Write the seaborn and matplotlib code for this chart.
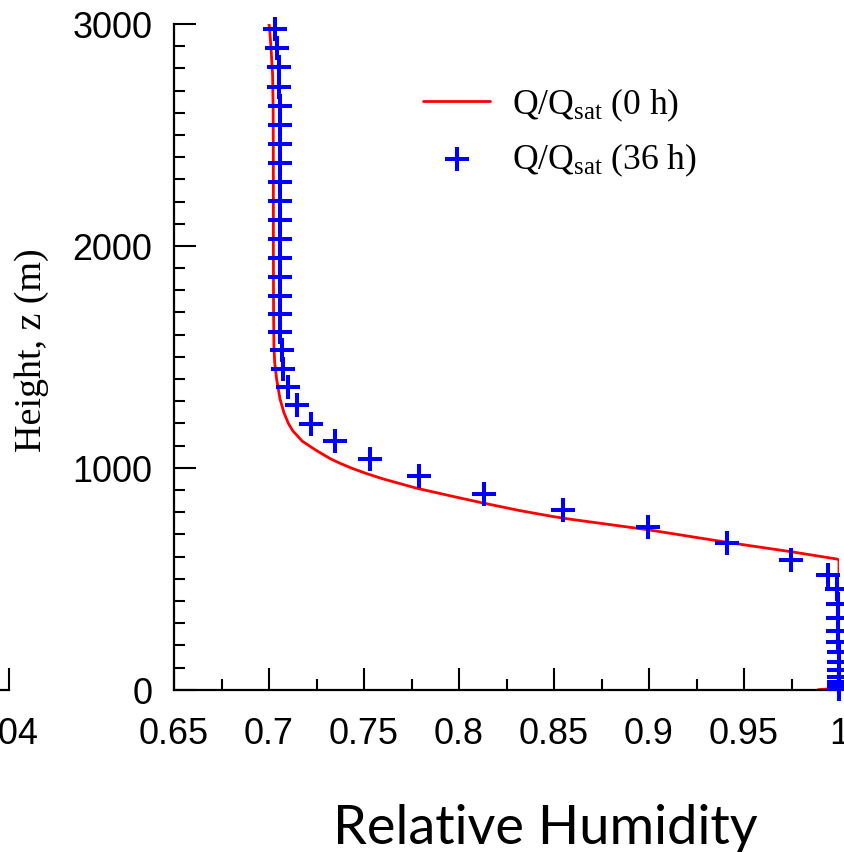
import matplotlib
matplotlib.use("Agg")
import matplotlib.pyplot as plt
import seaborn as sns
import pandas as pd
from matplotlib.ticker import FixedLocator, MultipleLocator, FixedFormatter
from matplotlib.transforms import ScaledTranslation

# Relative humidity profile at 0 h (solid line)
rh_0h = [0.7000, 0.7004, 0.7011, 0.7019, 0.7022, 0.7023, 0.7023, 0.7024,
         0.7026, 0.7030, 0.7040, 0.7058, 0.7078, 0.7102, 0.7125, 0.7175,
         0.7251, 0.7325, 0.7375, 0.7436, 0.7510, 0.7600, 0.7777, 0.7953,
         0.8128, 0.8321, 0.8490, 0.8580, 0.8993, 0.9412, 0.9746, 0.9988,
         1.0000, 1.0000, 0.9950, 0.9890]
z_0h = [3000, 2970, 2887, 2770, 2600, 2300, 2000, 1700,
        1550, 1475, 1400, 1310, 1250, 1200, 1167, 1120,
        1077, 1040, 1020, 998, 975, 950, 908, 874,
        841, 807, 781, 769, 721, 664, 622, 589,
        585, 12, 4, 0]

# Relative humidity at model levels after 36 h (markers)
rh_36h = [0.7032, 0.7044, 0.7052, 0.7055, 0.7056, 0.7056, 0.7056, 0.7056,
          0.7056, 0.7056, 0.7057, 0.7058, 0.7058, 0.7058, 0.7058, 0.7059,
          0.7060, 0.7067, 0.7075, 0.7102, 0.7146, 0.7219, 0.7347, 0.7532,
          0.7791, 0.8133, 0.8546, 0.8993, 0.9412, 0.9746, 0.9944, 0.9990,
          0.9995, 0.9996, 0.9997, 0.9997, 0.9998, 0.9998, 0.9999, 0.9999,
          1.0000, 1.0000, 1.0000, 1.0000]
z_36h = [2977, 2890, 2805, 2717, 2632, 2545, 2458, 2372,
         2287, 2201, 2117, 2031, 1944, 1858, 1776, 1693,
         1611, 1531, 1445, 1363, 1283, 1197, 1119, 1040,
         962, 882, 811, 735, 660, 586, 518, 453,
         388, 323, 266, 214, 169, 126, 88, 57,
         33, 17, 7, 2]

x_ticks = [0.65, 0.70, 0.75, 0.80, 0.85, 0.90, 0.95, 1.00]
x_tick_labels = ["0.65", "0.7", "0.75", "0.8", "0.85", "0.9", "0.95", "1"]
y_ticks = [0, 1000, 2000, 3000]
y_tick_labels = ["0", "1000", "2000", "3000"]
left_panel_ticks = [0.04]
left_panel_tick_labels = ["0.04"]

label_0h = r"Q/Q$_{\mathrm{sat}}$ (0 h)"
label_36h = r"Q/Q$_{\mathrm{sat}}$ (36 h)"

sns.set_style("ticks")
plt.rcParams.update({
    "font.family": ["Liberation Sans", "DejaVu Sans"],
    "mathtext.fontset": "custom",
    "mathtext.rm": "Liberation Serif",
    "mathtext.it": "Liberation Serif:italic",
    "text.color": "black",
    "axes.labelcolor": "black",
    "axes.edgecolor": "black",
    "xtick.color": "black",
    "ytick.color": "black",
    "axes.linewidth": 1.6,
    "xtick.direction": "in",
    "ytick.direction": "in",
})

W, H = 845, 853
fig = plt.figure(figsize=(W / 100, H / 100), dpi=100)

x0, x1 = 174, 839
y0, y1 = 690.7, 25
ax = fig.add_axes([x0 / W, (H - y0) / H, (x1 - x0) / W, (y0 - y1) / H])

df0 = pd.DataFrame({"rh": rh_0h, "z": z_0h})
df36 = pd.DataFrame({"rh": rh_36h, "z": z_36h})

sns.lineplot(data=df0, x="rh", y="z", sort=False, estimator=None, ax=ax,
             color="#ff0000", linewidth=2.0, label=label_0h)
sns.scatterplot(data=df36, x="rh", y="z", ax=ax, marker="+", s=280,
                color="#0000ff", linewidth=2.9, label=label_36h,
                clip_on=False, zorder=3)

ax.set_xlim(0.65, 1.0)
ax.set_ylim(0, 3000)
ax.xaxis.set_major_locator(FixedLocator(x_ticks))
ax.xaxis.set_major_formatter(FixedFormatter(x_tick_labels))
ax.xaxis.set_minor_locator(MultipleLocator(0.025))
ax.yaxis.set_major_locator(FixedLocator(y_ticks))
ax.yaxis.set_major_formatter(FixedFormatter(y_tick_labels))
ax.yaxis.set_minor_locator(MultipleLocator(100))

for a in ("x", "y"):
    ax.tick_params(axis=a, which="major", length=16, width=1.5,
                   labelsize=25.9, colors="black")
    ax.tick_params(axis=a, which="minor", length=8, width=1.5)
ax.tick_params(axis="x", which="major", pad=19)
ax.tick_params(axis="y", which="major", pad=15.5)
sns.despine(ax=ax, top=True, right=True)

ax.set_ylabel("Height, z (m)", family="Liberation Serif", fontsize=27.4,
              va="center", color="black")
ax.yaxis.set_label_coords((32 - x0) / (x1 - x0), (y0 - 350) / (y0 - y1))
ax.set_xlabel("Relative Humidity", family="Lato", fontsize=39, va="center",
              color="black")
ax.xaxis.set_label_coords((545 - x0) / (x1 - x0), (y0 - 829) / (y0 - y1))

leg = ax.legend(loc="upper left", frameon=False,
                prop={"family": "Liberation Serif", "size": 25.6},
                bbox_to_anchor=((423 - x0) / (x1 - x0), (y0 - 87) / (y0 - y1)),
                borderpad=0, borderaxespad=0, handlelength=1.89,
                handletextpad=0.62, labelspacing=0.48)
for t in leg.get_texts():
    t.set_color("black")

# Neighbouring panel, only its right end falls inside the figure
axl = fig.add_axes([-0.4, (H - y0) / H, 0.4 + 9 / W, (y0 - y1) / H])
axl.set_xlim(0.0, 0.04)
axl.set_ylim(0, 3000)
axl.xaxis.set_major_locator(FixedLocator(left_panel_ticks))
axl.xaxis.set_major_formatter(FixedFormatter(left_panel_tick_labels))
axl.tick_params(axis="x", which="major", length=16, width=1.5,
                labelsize=25.9, pad=19, colors="black")
axl.set_yticks([])
for side in ("top", "right", "left"):
    axl.spines[side].set_visible(False)
shift = ScaledTranslation(-5 / 100, 0, fig.dpi_scale_trans)
for lbl in axl.get_xticklabels():
    lbl.set_transform(lbl.get_transform() + shift)

fig.savefig("out.png", dpi=100)
